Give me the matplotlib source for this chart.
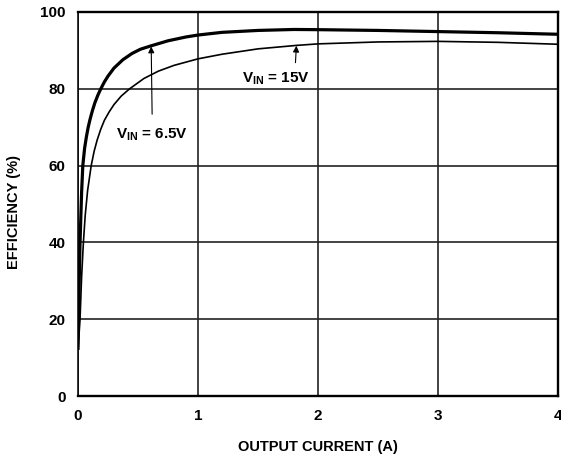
import matplotlib
matplotlib.use("Agg")
import matplotlib.pyplot as plt

plt.rcParams['font.family'] = ['Liberation Sans', 'DejaVu Sans']
plt.rcParams['font.weight'] = 'bold'
plt.rcParams['mathtext.fontset'] = 'custom'
plt.rcParams['mathtext.rm'] = 'Liberation Sans:bold'
plt.rcParams['mathtext.bf'] = 'Liberation Sans:bold'

# V_IN = 6.5V (heavy curve)
i_65 = [0, 0.005, 0.017, 0.03, 0.04, 0.055, 0.07, 0.085, 0.1, 0.12, 0.14, 0.165,
        0.19, 0.22, 0.25, 0.3, 0.375, 0.45, 0.52, 0.61, 0.75, 0.9, 1.0, 1.2,
        1.5, 1.8, 2.0, 2.5, 3.0, 3.5, 4.0]
eff_65 = [12, 22, 40, 53, 60, 64.5, 67.5, 70, 72, 74.3, 76.3, 78.3,
          80, 81.8, 83.3, 85.4, 87.6, 89.2, 90.3, 91.2, 92.5, 93.5, 94, 94.7,
          95.2, 95.45, 95.4, 95.2, 94.9, 94.6, 94.2]

# V_IN = 15V (light curve)
i_15 = [0, 0.017, 0.03, 0.045, 0.06, 0.08, 0.11, 0.135, 0.16, 0.19, 0.22, 0.26,
        0.3, 0.36, 0.43, 0.55, 0.67, 0.8, 1.0, 1.2, 1.5, 1.82, 2.0, 2.5, 3.0,
        3.5, 4.0]
eff_15 = [12, 20, 31, 40, 47, 53.5, 60, 63.8, 66.7, 69.5, 71.8, 74,
          75.9, 78.1, 80, 82.7, 84.6, 86.1, 87.8, 89, 90.4, 91.3, 91.7, 92.2, 92.35,
          92.1, 91.6]

xticks = [0, 1, 2, 3, 4]
yticks = [0, 20, 40, 60, 80, 100]

fig = plt.figure(figsize=(5.61, 4.59), dpi=100)
ax = fig.add_axes([78 / 561, 63 / 459, 480 / 561, 384 / 459])

ax.plot(i_65, eff_65, color='black', lw=2.3, solid_capstyle='butt',
        solid_joinstyle='round', zorder=3)
ax.plot(i_15, eff_15, color='black', lw=1.2, solid_capstyle='butt',
        solid_joinstyle='round', zorder=3)

ax.set_xlim(0, 4)
ax.set_ylim(0, 100)
ax.set_xticks(xticks)
ax.set_yticks(yticks)
ax.tick_params(length=0, labelsize=11, pad=9)
ax.grid(True, color='#222222', lw=1.2)
for s in ax.spines.values():
    s.set_linewidth(1.7)
ax.spines['left'].set_linewidth(1.1)

ax.set_xlabel('OUTPUT CURRENT (A)', fontsize=10.5, fontweight='bold')
ax.set_ylabel('EFFICIENCY (%)', fontsize=10.5, fontweight='bold')
ax.xaxis.set_label_coords(0.5, -0.115)
ax.yaxis.set_label_coords(-0.118, 0.48)

ax.annotate(r'$\mathregular{V_{IN}}$ = 6.5V', xy=(0.61, 91.0), xytext=(0.62, 68.0),
            ha='center', va='center', fontsize=11, fontweight='bold',
            arrowprops=dict(arrowstyle='-|>', color='black', lw=0.8,
                            mutation_scale=9, shrinkA=7, shrinkB=0))
ax.annotate(r'$\mathregular{V_{IN}}$ = 15V', xy=(1.82, 91.2), xytext=(1.65, 82.5),
            ha='center', va='center', fontsize=11, fontweight='bold',
            arrowprops=dict(arrowstyle='-|>', color='black', lw=0.8,
                            mutation_scale=9, shrinkA=4, shrinkB=0,
                            relpos=(0.78, 1.0)))

fig.savefig('out.png', dpi=100)
